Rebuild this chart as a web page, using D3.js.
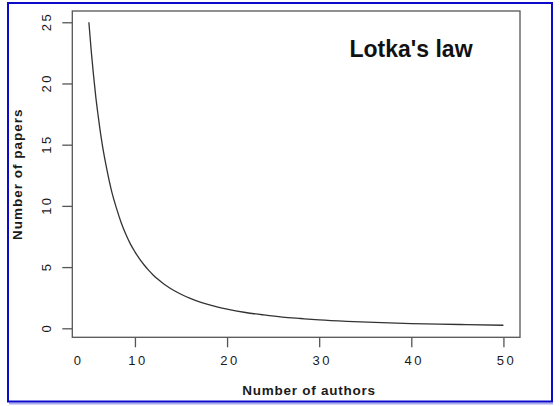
<!DOCTYPE html>
<html>
<head>
<meta charset="utf-8">
<script src="https://cdn.jsdelivr.net/npm/d3@7"></script>
<style>
  html, body { margin: 0; padding: 0; background: #fff; }
  svg { display: block; font-family: "Liberation Sans", Arial, Helvetica, sans-serif; }
</style>
</head>
<body>
<svg id="chart" width="560" height="406"></svg>
<script>
// ---- data ----
const authors = [5, 5.25, 5.5, 5.75, 6, 6.25, 6.5, 7, 7.5, 8, 8.5, 9, 9.5, 10, 10.5, 11, 11.5, 12, 12.5, 13, 13.5, 14, 15, 16, 17, 18, 19, 20, 22, 24, 26, 28, 30, 33, 36, 40, 43, 46, 50];
const papers  = [25, 22.7, 20.7, 18.9, 17.4, 16.0, 14.8, 12.8, 11.1, 9.8, 8.65, 7.7, 6.9, 6.25, 5.67, 5.17, 4.73, 4.34, 4.0, 3.7, 3.43, 3.19, 2.78, 2.44, 2.16, 1.93, 1.73, 1.56, 1.29, 1.09, 0.92, 0.80, 0.69, 0.57, 0.48, 0.39, 0.34, 0.30, 0.25];
const xTicks = [10, 20, 30, 40, 50];
const xExtraLabel = "0";
const yTicks = [0, 5, 10, 15, 20, 25];
const title = "Lotka's law";
const xTitle = "Number of authors";
const yTitle = "Number of papers";

const svg = d3.select("#chart");

// page frame
svg.append("line").attr("x1", 9).attr("x2", 553).attr("y1", 403.5).attr("y2", 403.5)
  .attr("stroke", "#a9aaf0").attr("stroke-width", 2);
svg.append("rect").attr("x", 8).attr("y", 3).attr("width", 544).attr("height", 398.5)
  .attr("fill", "none").attr("stroke", "#0a0ac8").attr("stroke-width", 2);

const L = 72.3, R = 520, T = 11, B = 337.3;
const x = d3.scaleLinear().domain([3.2, 51.8]).range([L, R]);
const y = d3.scaleLinear().domain([-0.735, 25.92]).range([B, T]);

const axisColor = "#555";
const textColor = "#1a1a1a";
const tickFont = "13px";

// x axis
const gx = svg.append("g").attr("transform", `translate(0,${B})`)
  .call(d3.axisBottom(x).tickValues(xTicks).tickSize(10).tickFormat(d3.format("d")));
gx.select(".domain").remove();
gx.selectAll(".tick line").attr("stroke", axisColor).attr("stroke-width", 1.3);
gx.selectAll(".tick text")
  .attr("y", 27.7).attr("dy", 0)
  .attr("dx", 2.5)
  .attr("fill", textColor)
  .style("font-size", tickFont)
  .style("letter-spacing", "2.5px");
svg.append("text")
  .attr("x", L + 5 + 1.25).attr("y", B + 27.7)
  .attr("text-anchor", "middle")
  .attr("fill", textColor)
  .style("font-size", tickFont)
  .style("letter-spacing", "2.5px")
  .text(xExtraLabel);

// y axis
const gy = svg.append("g").attr("transform", `translate(${L},0)`)
  .call(d3.axisLeft(y).tickValues(yTicks).tickSize(10).tickFormat(d3.format("d")));
gy.select(".domain").remove();
gy.selectAll(".tick line").attr("stroke", axisColor).attr("stroke-width", 1.3);
gy.selectAll(".tick text")
  .attr("x", 0).attr("y", 0).attr("dy", 0).attr("dx", 1.25)
  .attr("transform", "translate(-21,0) rotate(-90)")
  .attr("text-anchor", "middle")
  .attr("fill", textColor)
  .style("font-size", tickFont)
  .style("letter-spacing", "2.5px");

// plot box
svg.append("rect").attr("x", L).attr("y", T).attr("width", R - L).attr("height", B - T)
  .attr("fill", "none").attr("stroke", axisColor).attr("stroke-width", 1.3);

// curve
const pts = authors.map((a, i) => [a, papers[i]]);
svg.append("path")
  .datum(pts)
  .attr("fill", "none")
  .attr("stroke", "#333")
  .attr("stroke-width", 1.3)
  .attr("d", d3.line().x(d => x(d[0])).y(d => y(d[1])).curve(d3.curveMonotoneX));

// titles
svg.append("text")
  .attr("x", 411).attr("y", 57)
  .attr("text-anchor", "middle")
  .attr("fill", "#111")
  .style("font-size", "23px").style("font-weight", "bold")
  .text(title);

svg.append("text")
  .attr("x", 309).attr("y", 394.5)
  .attr("text-anchor", "middle")
  .attr("fill", textColor)
  .style("font-size", "13.5px").style("font-weight", "bold")
  .style("letter-spacing", "0.75px")
  .text(xTitle);

svg.append("text")
  .attr("transform", `translate(22,${(T + B) / 2}) rotate(-90)`)
  .attr("text-anchor", "middle")
  .attr("fill", textColor)
  .style("font-size", "13.5px").style("font-weight", "bold")
  .style("letter-spacing", "1px")
  .text(yTitle);
</script>
</body>
</html>
